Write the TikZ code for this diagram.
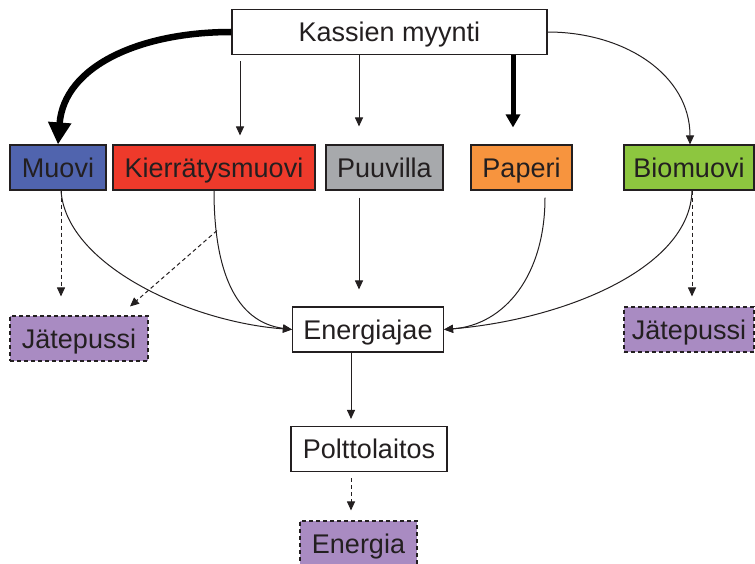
\documentclass[tikz,border=0pt]{standalone}
\usepackage{fontspec}
\setmainfont{Liberation Sans}
\usetikzlibrary{arrows.meta,calc}

\definecolor{ink}{HTML}{231F20}
\definecolor{cmuovi}{HTML}{5064AE}
\definecolor{ckierr}{HTML}{EE3A2B}
\definecolor{cpuu}{HTML}{A7A9AC}
\definecolor{cpaperi}{HTML}{F7943E}
\definecolor{cbio}{HTML}{8DC63F}
\definecolor{cwaste}{HTML}{A98BC2}

\tikzset{
  box/.style={draw=ink, line width=1.1pt, minimum height=45pt, inner sep=0pt,
    text height=19.5pt, text depth=0pt, text=ink,
    font=\fontsize{27}{32}\selectfont},
  wastebox/.style={box, fill=cwaste, dash pattern=on 4pt off 3pt},
  arr/.style={draw=ink, line width=1pt, -{Triangle[length=9pt,width=8pt]}},
  darr/.style={arr, dash pattern=on 4pt off 3pt},
  heavyarr/.style={draw=black, line width=5pt, -{Triangle[length=13pt,width=14pt]}},
  hugearr/.style={draw=black, line width=6.5pt, -{Triangle[length=22pt,width=22pt]}},
}

\begin{document}
\begin{tikzpicture}[x=1pt,y=-1pt]
\useasboundingbox (0,0) rectangle (755,564);

% boxes
\node[box, minimum width=315pt] (kassien) at (389.5,32) {Kassien myynti};
\node[box, fill=cmuovi, minimum width=96pt] (muovi) at (58,167.5) {Muovi};
\node[box, fill=ckierr, minimum width=202pt] (kier) at (214,167.5) {Kierrätysmuovi};
\node[box, fill=cpuu, minimum width=117pt] (puu) at (384.5,167.5) {Puuvilla};
\node[box, fill=cpaperi, minimum width=101pt] (paperi) at (521.5,167.5) {Paperi};
\node[box, fill=cbio, minimum width=130pt] (bio) at (689,167.5) {Biomuovi};
\node[wastebox, minimum width=138pt] (jatL) at (79,338.5) {Jätepussi};
\node[box, minimum width=151pt] (energiajae) at (368,329.5) {Energiajae};
\node[wastebox, minimum width=130pt] (jatR) at (689,329.5) {Jätepussi};
\node[box, minimum width=156pt] (polt) at (369,449) {Polttolaitos};
\node[wastebox, minimum width=117pt] (energia) at (358.5,543.5) {Energia};

% flows from sales
\draw[hugearr] (kassien.west) .. controls (140,32) and (64,66) .. (muovi.north);
\draw[arr] ($(kassien.south -| kier.north)+(26,6)$) -- ($(kier.north)+(26,-9)$);
\draw[arr] ($(kassien.south -| puu.north)+(-25.5,0)$) -- ($(puu.north)+(-25.5,-18)$);
\draw[heavyarr] ($(kassien.south -| paperi.north)+(-8.5,0)$) -- ($(paperi.north)+(-8.5,-17)$);
\draw[arr] (kassien.east) .. controls (625,32) and (690,75) .. ($(bio.north)+(1,0)$);

% flows into energy fraction
\draw[arr] ($(muovi.south)+(3,0)$) .. controls (66,265) and (190,322) .. (energiajae.west);
\draw[arr] (kier.south) .. controls (214,270) and (235,322) .. (energiajae.west);
\draw[arr] ($(puu.south)+(-25.5,7)$) -- ($(energiajae.north)+(-9,-17)$);
\draw[arr] ($(paperi.south)+(23.5,7)$) .. controls (545,275) and (505,325) .. (energiajae.east);
\draw[arr] ($(bio.south)+(3,0)$) .. controls (690,270) and (560,320) .. (energiajae.east);

% flows into waste bags
\coordinate (kierbranch) at ($(kier.south)+(3,40)$);
\draw[darr] ($(muovi.south)+(3,0)$) -- ($(jatL.north)+(-18,-19)$);
\draw[darr] (kierbranch) -- ($(jatL.north)+(51,-9)$);
\draw[darr] ($(bio.south)+(3,0)$) -- ($(jatR.north)+(3,-10)$);

% incineration chain
\draw[arr] ($(energiajae.south)+(-17,0)$) -- ($(polt.north)+(-18,-7)$);
\draw[darr] ($(polt.south)+(-18,6)$) -- ($(energia.north)+(-7.5,-10)$);
\end{tikzpicture}
\end{document}
